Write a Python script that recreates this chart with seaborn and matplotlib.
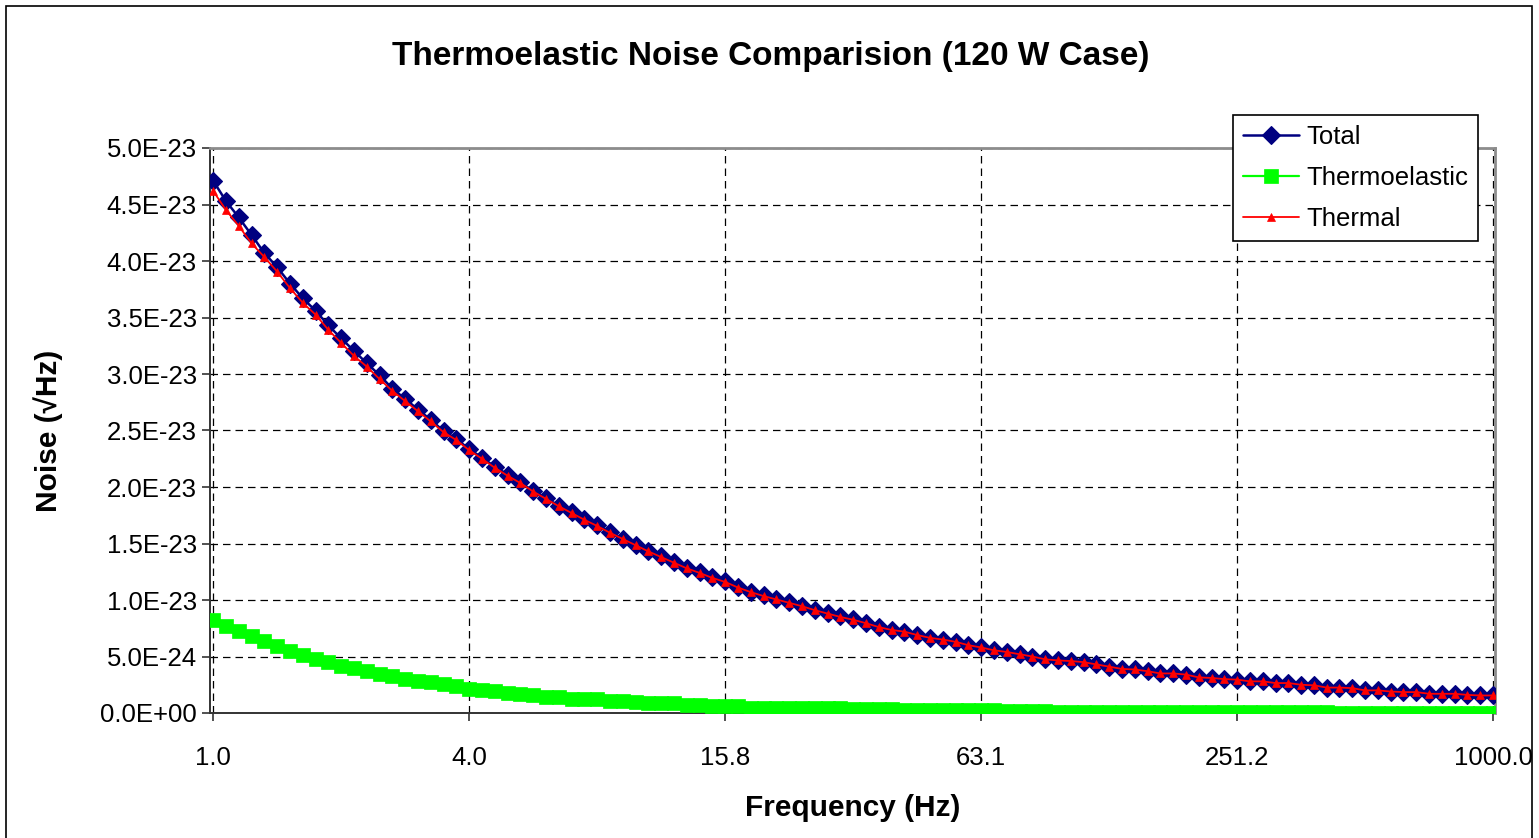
import numpy as np
import pandas as pd
import matplotlib
matplotlib.use("Agg")
import matplotlib.pyplot as plt
import seaborn as sns
from matplotlib.patches import Rectangle
from matplotlib.ticker import FuncFormatter, FixedLocator, MultipleLocator

# ---- data (noise amplitudes in units of 1e-23 /sqrt(Hz)) ----
UNIT = 1e-23

# frequency categories: 101 log-spaced points from 1 Hz to 1 kHz
freq_hz = np.logspace(0, 3, 101)
tick_positions = [0, 20, 40, 60, 80, 100]
tick_labels = ["1.0", "4.0", "15.8", "63.1", "251.2", "1000.0"]

total = [
    4.71, 4.53, 4.385, 4.23, 4.07, 3.945, 3.80, 3.67, 3.56, 3.43,
    3.315, 3.205, 3.095, 2.99, 2.87, 2.78, 2.685, 2.595, 2.495, 2.425,
    2.335, 2.26, 2.18, 2.11, 2.04, 1.965, 1.90, 1.835, 1.775, 1.715,
    1.66, 1.60, 1.54, 1.49, 1.435, 1.385, 1.335, 1.285, 1.245, 1.20,
    1.165, 1.115, 1.075, 1.04, 1.01, 0.98, 0.95, 0.915, 0.885, 0.855,
    0.83, 0.795, 0.76, 0.735, 0.72, 0.69, 0.665, 0.65, 0.63, 0.60,
    0.58, 0.555, 0.54, 0.52, 0.50, 0.475, 0.465, 0.46, 0.45, 0.43,
    0.41, 0.39, 0.385, 0.37, 0.35, 0.35, 0.34, 0.315, 0.31, 0.30,
    0.295, 0.28, 0.28, 0.265, 0.265, 0.25, 0.245, 0.225, 0.225, 0.22,
    0.20, 0.20, 0.19, 0.185, 0.185, 0.17, 0.17, 0.17, 0.16, 0.155,
    0.155,
]

thermoelastic = [
    0.826, 0.77, 0.725, 0.68, 0.64, 0.59, 0.55, 0.51, 0.475, 0.455,
    0.42, 0.40, 0.37, 0.345, 0.325, 0.305, 0.285, 0.27, 0.253, 0.235,
    0.215, 0.20, 0.195, 0.18, 0.165, 0.16, 0.145, 0.14, 0.125, 0.12,
    0.12, 0.108, 0.105, 0.10, 0.09, 0.088, 0.085, 0.07, 0.068, 0.066,
    0.064, 0.062, 0.048, 0.047, 0.046, 0.045, 0.044, 0.043, 0.042, 0.041,
    0.034, 0.033, 0.032, 0.031, 0.030, 0.029, 0.028, 0.027, 0.026, 0.025,
    0.024, 0.023, 0.022, 0.021, 0.020, 0.014, 0.013, 0.012, 0.011, 0.010,
    0.0095, 0.009, 0.0085, 0.008, 0.0075, 0.007, 0.0068, 0.0065, 0.0062, 0.006,
    0.0058, 0.0056, 0.0054, 0.0052, 0.005, 0.0048, 0.0046, 0.0045, 0.0044, 0.0043,
    0.0042, 0.0041, 0.004, 0.0039, 0.0038, 0.0037, 0.0036, 0.0035, 0.0034, 0.0033,
    0.0032,
]

thermal = [
    4.62, 4.45, 4.31, 4.155, 4.035, 3.905, 3.76, 3.63, 3.525, 3.39,
    3.275, 3.16, 3.065, 2.955, 2.85, 2.76, 2.67, 2.58, 2.485, 2.415,
    2.325, 2.25, 2.17, 2.10, 2.035, 1.96, 1.895, 1.83, 1.77, 1.71,
    1.655, 1.595, 1.54, 1.485, 1.43, 1.38, 1.33, 1.28, 1.24, 1.195,
    1.16, 1.11, 1.07, 1.035, 1.005, 0.975, 0.945, 0.91, 0.88, 0.85,
    0.825, 0.795, 0.76, 0.735, 0.72, 0.69, 0.665, 0.65, 0.63, 0.60,
    0.58, 0.555, 0.54, 0.52, 0.50, 0.475, 0.465, 0.46, 0.45, 0.43,
    0.41, 0.39, 0.385, 0.37, 0.35, 0.35, 0.34, 0.315, 0.31, 0.30,
    0.295, 0.28, 0.28, 0.265, 0.265, 0.25, 0.245, 0.225, 0.225, 0.22,
    0.20, 0.20, 0.19, 0.185, 0.185, 0.17, 0.17, 0.17, 0.16, 0.155,
    0.155,
]

df = pd.DataFrame({
    "pos": np.arange(len(freq_hz)),
    "freq": freq_hz,
    "Total": np.array(total) * UNIT,
    "Thermoelastic": np.array(thermoelastic) * UNIT,
    "Thermal": np.array(thermal) * UNIT,
})

# ---- styling ----
sns.set_style("white")
plt.rcParams["font.family"] = ["Liberation Sans", "DejaVu Sans"]
plt.rcParams["text.color"] = "black"
plt.rcParams["axes.labelcolor"] = "black"

W, H = 1539, 838
fig = plt.figure(figsize=(W / 100, H / 100), dpi=100)
ax = fig.add_axes([210 / W, 1 - 713 / H, (1495 - 210) / W, (713 - 148) / H])

sns.lineplot(data=df, x="pos", y="Total", ax=ax, color="#000080",
             linewidth=1.8, marker="D", markersize=9.5, markeredgecolor="#000080",
             markeredgewidth=0.8, label="Total", zorder=3)
sns.lineplot(data=df, x="pos", y="Thermoelastic", ax=ax, color="#00FF00",
             linewidth=1.6, marker="s", markersize=9.8, markeredgecolor="#00FF00",
             markeredgewidth=0.5, label="Thermoelastic", zorder=3)
sns.lineplot(data=df, x="pos", y="Thermal", ax=ax, color="#FF0000",
             linewidth=1.3, marker="^", markersize=5.5, markeredgecolor="#FF0000",
             markeredgewidth=0.5, label="Thermal", zorder=4)

ax.set_xlim(-0.25, 100.15)
ax.set_ylim(0, 5e-23)
ax.xaxis.set_major_locator(FixedLocator(tick_positions))
ax.set_xticklabels(tick_labels)
ax.yaxis.set_major_locator(MultipleLocator(5e-24))
ax.yaxis.set_major_formatter(FuncFormatter(lambda v, p: f"{v:.1E}"))

ax.grid(True, which="major", color="black", linestyle=(0, (6, 4)), linewidth=0.9)
ax.set_axisbelow(True)

for side in ("left", "bottom"):
    ax.spines[side].set_color("#333333")
    ax.spines[side].set_linewidth(1.4)
for side in ("top", "right"):
    ax.spines[side].set_color("#8c8c8c")
    ax.spines[side].set_linewidth(2.0)

ax.tick_params(axis="y", direction="out", length=6, width=1.2, color="#333333",
               labelcolor="black", pad=3.5, labelsize=18.5, left=True)
ax.tick_params(axis="x", direction="out", length=6, width=1.2, color="#333333",
               labelcolor="black", pad=18, labelsize=18.5, bottom=True)

ax.set_xlabel("Frequency (Hz)", fontsize=21.5, fontweight="bold", labelpad=17)
ax.set_ylabel("Noise (\u221aHz)", fontsize=21.5, fontweight="bold", labelpad=27)

fig.text(771 / W, 1 - 57 / H, "Thermoelastic Noise Comparision (120 W Case)",
         ha="center", va="center", fontsize=24, fontweight="bold")

leg = ax.legend(loc="upper left", bbox_to_anchor=(1233 / W, 1 - 115 / H),
                bbox_transform=fig.transFigure, frameon=True, fancybox=False,
                edgecolor="black", framealpha=1, fontsize=18.5, handlelength=2.15,
                borderaxespad=0, borderpad=0.4, labelspacing=0.66, handletextpad=0.3)
leg.get_frame().set_linewidth(1.2)
leg.set_zorder(10)

# chart-area border
fig.patches.append(Rectangle((6 / W, -0.01), (1532 - 6) / W, 1 - 6 / H + 0.01,
                             transform=fig.transFigure, fill=False,
                             edgecolor="black", linewidth=1.2))

fig.savefig("out.png", dpi=100)
